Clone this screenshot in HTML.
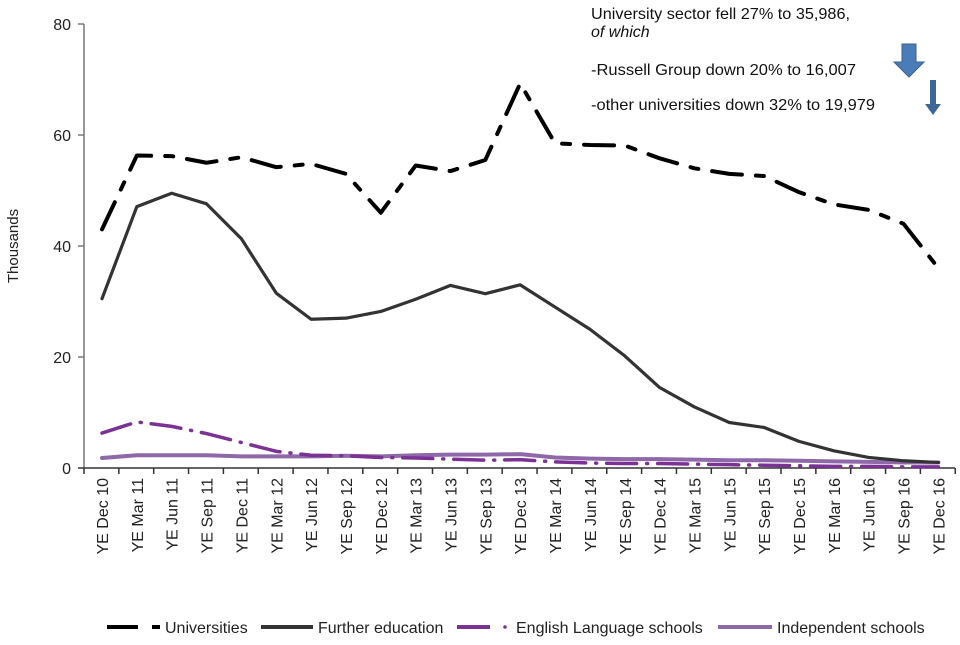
<!DOCTYPE html><html><head><meta charset="utf-8"><style>body{margin:0;background:#fff}svg{font-family:"Liberation Sans",sans-serif}</style></head><body>
<svg id="s" width="960" height="640" xmlns="http://www.w3.org/2000/svg">
<text x="-246" y="18" transform="rotate(-90)" font-size="15" text-anchor="middle" fill="#222">Thousands</text>
<g font-size="16" fill="#222" text-anchor="end">
<text x="71" y="474">0</text><text x="71" y="363">20</text><text x="71" y="252">40</text><text x="71" y="141">60</text><text x="71" y="30">80</text></g>
<line x1="84" y1="24" x2="84" y2="468" stroke="#777" stroke-width="1.5"/>
<g stroke="#777" stroke-width="1.5"><line x1="78" y1="24" x2="84" y2="24"/><line x1="78" y1="135" x2="84" y2="135"/><line x1="78" y1="246" x2="84" y2="246"/><line x1="78" y1="357" x2="84" y2="357"/></g>
<line x1="78" y1="468" x2="955" y2="468" stroke="#333" stroke-width="1.5"/>
<g id="t"></g>
<g font-size="16" fill="#111">
<text x="591" y="19" textLength="259" lengthAdjust="spacingAndGlyphs">University sector fell 27% to 35,986,</text>
<text x="591" y="37" font-style="italic">of which</text>
<text x="591" y="75" textLength="265" lengthAdjust="spacingAndGlyphs">-Russell Group down  20% to 16,007</text>
<text x="591" y="110" textLength="284" lengthAdjust="spacingAndGlyphs">-other universities down 32% to 19,979</text></g>
<path d="M902 44h14v18h8l-15 15l-15-15h8z" fill="#4a7cb8" stroke="#3a5f8f"/>
<path d="M930 80h6v24h5l-8 11l-8-11h5z" fill="#3d6699"/>
<g font-size="16" fill="#222">
<line x1="107" y1="627" x2="138" y2="627" stroke="#000" stroke-width="4"/><line x1="152" y1="627" x2="160" y2="627" stroke="#000" stroke-width="4"/><text x="165" y="633">Universities</text>
<line x1="261" y1="627" x2="313" y2="627" stroke="#333" stroke-width="4"/><text x="318" y="633">Further education</text>
<line x1="457" y1="627" x2="490" y2="627" stroke="#7b3294" stroke-width="4"/><circle cx="505" cy="627" r="1.8" fill="#7b3294"/><text x="516" y="633">English Language schools</text>
<line x1="718" y1="627" x2="772" y2="627" stroke="#8e68a8" stroke-width="4"/><text x="777" y="633">Independent schools</text></g>
</svg>
<script>
const s=document.getElementById('s'),t=document.getElementById('t');
const labs=["YE Dec 10","YE Mar 11","YE Jun 11","YE Sep 11","YE Dec 11","YE Mar 12","YE Jun 12","YE Sep 12","YE Dec 12","YE Mar 13","YE Jun 13","YE Sep 13","YE Dec 13","YE Mar 14","YE Jun 14","YE Sep 14","YE Dec 14","YE Mar 15","YE Jun 15","YE Sep 15","YE Dec 15","YE Mar 16","YE Jun 16","YE Sep 16","YE Dec 16"];
const sp=34.85,X=i=>102+i*sp,Y=v=>468-v*5.55;
let h='';
for(let i=0;i<=25;i++)h+=`<line x1="${84+i*sp}" y1="468" x2="${84+i*sp}" y2="474" stroke="#333" stroke-width="1.5"/>`;
labs.forEach((l,i)=>{h+=`<text transform="translate(${X(i)+6},478) rotate(-90)" text-anchor="end" font-size="16" fill="#222">${l}</text>`});
t.innerHTML=h;
const D=[
[[1.8,2.3,2.3,2.3,2.1,2.1,2.1,2.2,2.1,2.3,2.4,2.4,2.5,1.9,1.7,1.6,1.6,1.5,1.4,1.4,1.3,1.2,1.1,1,1],'#8e68a8','',4],
[[6.3,8.3,7.5,6.2,4.6,3,2.3,2.2,1.9,1.8,1.6,1.4,1.5,1.1,0.9,0.8,0.8,0.7,0.6,0.5,0.4,0.3,0.3,0.2,0.2],'#7b3294','30 10 1 10',3.5],
[[30.5,47.1,49.5,47.6,41.3,31.5,26.8,27,28.2,30.4,32.9,31.4,33,29,25,20.2,14.5,11,8.2,7.3,4.8,3.1,1.9,1.3,1],'#333','',3.2],
[[43,56.3,56.2,55,56,54.2,54.8,53,46,54.5,53.5,55.5,69.3,58.5,58.2,58.1,55.8,54,53,52.6,49.7,47.5,46.5,44,36],'#000','30 14 8 14',4]];
let g='';
D.forEach(([d,c,da,w])=>{g+=`<polyline fill="none" stroke="${c}" stroke-width="${w}" stroke-linecap="round" stroke-linejoin="round" ${da?`stroke-dasharray="${da}"`:''} points="${d.map((v,i)=>X(i)+','+Y(v)).join(' ')}"/>`});
s.insertAdjacentHTML('beforeend',g);
</script>
</body></html>
